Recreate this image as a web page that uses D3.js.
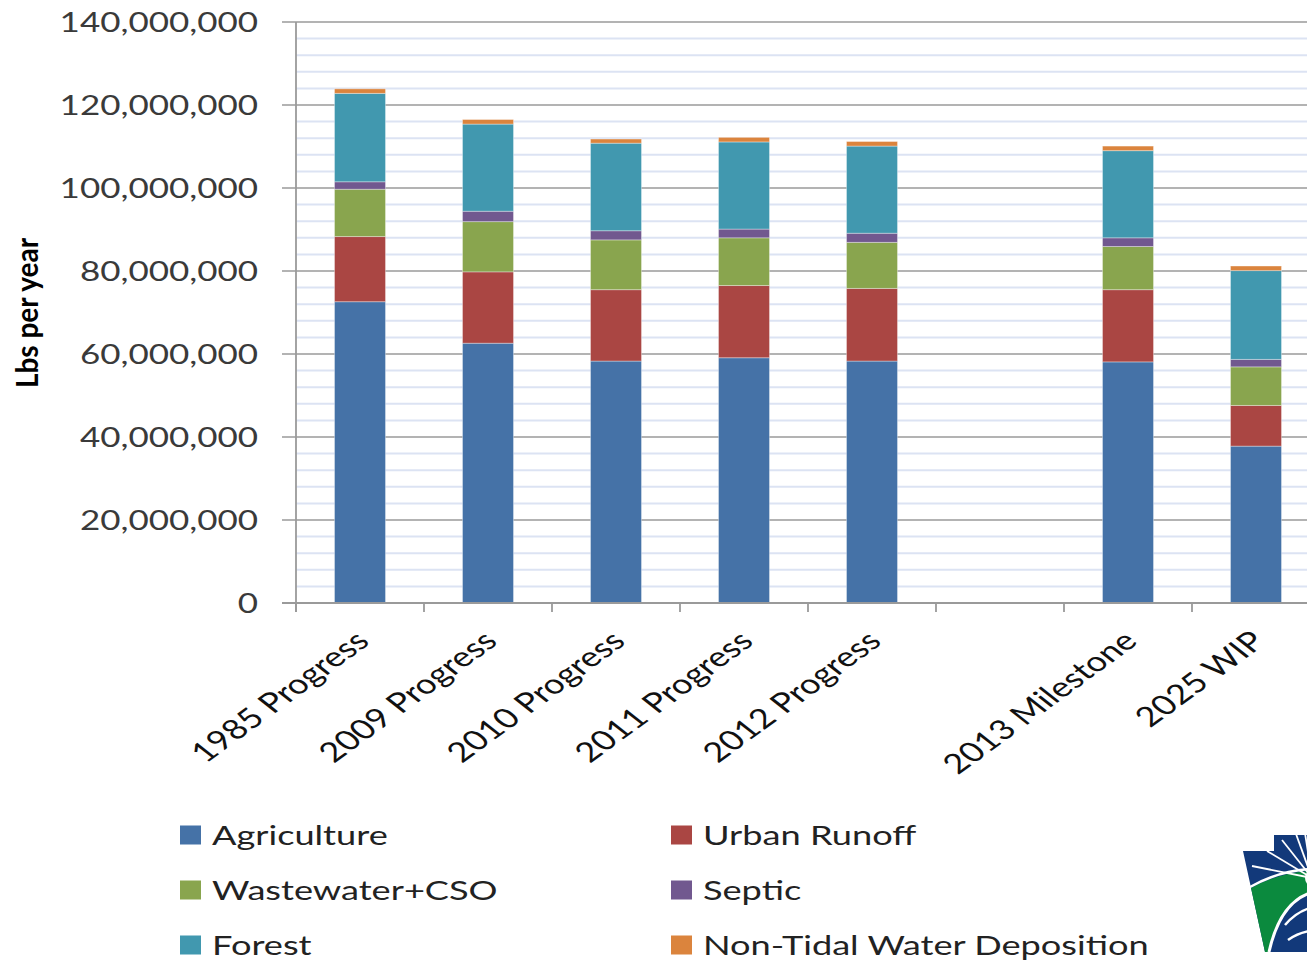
<!DOCTYPE html>
<html>
<head>
<meta charset="utf-8">
<script src="https://cdn.jsdelivr.net/npm/d3@7/dist/d3.min.js"></script>
<style>
  html, body { margin: 0; padding: 0; background: #fff; }
  svg { display: block; }
  text { font-family: Lato, "Open Sans", sans-serif; }
</style>
</head>
<body>
<svg id="chart" width="1307" height="960"></svg>
<script>
// ---- data ----
const categories = ["1985 Progress", "2009 Progress", "2010 Progress", "2011 Progress", "2012 Progress", "", "2013 Milestone", "2025 WIP"];
const seriesNames = ["Agriculture", "Urban Runoff", "Wastewater+CSO", "Septic", "Forest", "Non-Tidal Water Deposition"];
const agriculture = [72600000, 62600000, 58300000, 59100000, 58300000, null, 58100000, 37800000];
const urbanRunoff = [15700000, 17200000, 17200000, 17400000, 17500000, null, 17400000, 9800000];
const wastewater  = [11400000, 12100000, 12000000, 11500000, 11100000, null, 10400000, 9300000];
const septic      = [1800000, 2500000, 2200000, 2100000, 2200000, null, 2100000, 1800000];
const forest      = [21300000, 21000000, 21100000, 21000000, 21000000, null, 21000000, 21400000];
const nonTidal    = [1100000, 1100000, 1000000, 1100000, 1100000, null, 1100000, 1100000];
const yTicks = [0, 20000000, 40000000, 60000000, 80000000, 100000000, 120000000, 140000000];
const colors = ["#4572A7", "#AA4643", "#89A54E", "#71588F", "#4198AF", "#DB843D"];

const seriesValues = [agriculture, urbanRunoff, wastewater, septic, forest, nonTidal];
const rows = categories.map((c, i) => {
  const r = { cat: c, blank: agriculture[i] == null };
  seriesNames.forEach((s, k) => r[s] = seriesValues[k][i] || 0);
  return r;
});

const svg = d3.select("#chart");
const SX = 1.32; // horizontal stretch of the reference image

const x = d3.scaleBand().domain(categories).range([296, 1320]).paddingInner(0).paddingOuter(0);
const y = d3.scaleLinear().domain([0, 140000000]).range([603, 22]);
const barW = 51;

// minor gridlines
const minor = d3.range(0, 140000001, 4000000).filter(v => v % 20000000 !== 0);
svg.append("g").selectAll("line").data(minor).join("line")
  .attr("x1", 296).attr("x2", 1320)
  .attr("y1", d => y(d)).attr("y2", d => y(d))
  .attr("stroke", "#dce3f3").attr("stroke-width", 2);

// major gridlines (with left tick extension)
svg.append("g").selectAll("line").data(yTicks.filter(v => v > 0)).join("line")
  .attr("x1", 282).attr("x2", 1320)
  .attr("y1", d => y(d)).attr("y2", d => y(d))
  .attr("stroke", "#9a9a9a").attr("stroke-width", 1.6);

// stacked bars
const stack = d3.stack().keys(seriesNames);
const stacked = stack(rows);
svg.append("g").selectAll("g").data(stacked).join("g")
  .attr("fill", (d, i) => colors[i])
  .selectAll("rect").data(d => d.filter(p => !p.data.blank)).join("rect")
  .attr("x", d => x(d.data.cat) + (x.bandwidth() - barW) / 2)
  .attr("width", barW)
  .attr("y", d => y(d[1]))
  .attr("height", d => y(d[0]) - y(d[1]))
  .attr("stroke", "rgba(255,255,255,0.35)").attr("stroke-width", 1);

// axes lines
svg.append("line").attr("x1", 296).attr("x2", 296).attr("y1", y(140000000)).attr("y2", 612)
  .attr("stroke", "#9a9a9a").attr("stroke-width", 1.8);
svg.append("line").attr("x1", 282).attr("x2", 1320).attr("y1", y(0)).attr("y2", y(0))
  .attr("stroke", "#9a9a9a").attr("stroke-width", 1.8);
// category boundary ticks
const bounds = categories.map(c => x(c)).concat([x(categories[categories.length - 1]) + x.step()]);
svg.append("g").selectAll("line").data(bounds).join("line")
  .attr("x1", d => d).attr("x2", d => d).attr("y1", y(0)).attr("y2", 612)
  .attr("stroke", "#9a9a9a").attr("stroke-width", 1.8);

// y tick labels
svg.append("g").selectAll("g").data(yTicks).join("g")
  .attr("transform", d => `translate(258,${y(d)}) scale(${SX},1)`)
  .append("text")
  .attr("text-anchor", "end").attr("dy", "0.36em")
  .attr("font-size", 26.5).attr("fill", "#3a3a3a")
  .text(d3.format(","));

// x tick labels
svg.append("g").selectAll("g").data(categories.filter(c => c !== "")).join("g")
  .attr("transform", d => `translate(${x(d) + x.bandwidth() / 2 + 11},643) scale(${SX},1) rotate(-44)`)
  .append("text")
  .attr("text-anchor", "end")
  .attr("font-size", 27.5).attr("fill", "#111")
  .text(d => d);

// y axis title
svg.append("g").attr("transform", "translate(38,313) scale(1.1,1) rotate(-90)")
  .append("text").attr("text-anchor", "middle")
  .attr("font-size", 28).attr("font-weight", "bold").attr("fill", "#000")
  .text("Lbs per year");

// legend
const legendPos = [[180, 835], [671, 835], [180, 890], [671, 890], [180, 945], [671, 945]];
const lg = svg.append("g").selectAll("g").data(seriesNames).join("g")
  .attr("transform", (d, i) => `translate(${legendPos[i][0]},${legendPos[i][1]})`);
lg.append("rect").attr("x", 0).attr("y", -9.5).attr("width", 21).attr("height", 19)
  .attr("fill", (d, i) => colors[i]);
lg.append("g").attr("transform", `translate(32,0) scale(1.34,1)`)
  .append("text").attr("dy", "0.36em").attr("font-size", 27).attr("fill", "#222")
  .text(d => d);

// logo (partial keystone, cropped at right edge)
const logo = svg.append("g");
logo.append("path")
  .attr("d", "M1243,851 L1274,851 L1274,835 L1310,835 L1310,952 L1265,952 Z")
  .attr("fill", "#12397a");
logo.append("path")
  .attr("d", "M1251,888 Q1278,873 1310,871 L1310,893 Q1279,902 1268,952 L1265,952 Z")
  .attr("fill", "#0b8a3e");
logo.append("path")
  .attr("d", "M1250,887 Q1278,871 1310,869")
  .attr("fill", "none").attr("stroke", "#fff").attr("stroke-width", 2.5);
logo.append("path")
  .attr("d", "M1269,952 Q1280,903 1310,893")
  .attr("fill", "none").attr("stroke", "#fff").attr("stroke-width", 3);
logo.append("path")
  .attr("d", "M1285,925 Q1296,912 1310,908 M1288,940 Q1298,933 1310,931")
  .attr("fill", "none").attr("stroke", "#fff").attr("stroke-width", 2.5);
const rays = [[1252, 866], [1267, 851], [1282, 840], [1296, 834], [1305, 833]];
logo.selectAll("line.ray").data(rays).join("line").attr("class", "ray")
  .attr("x1", 1312).attr("y1", 878).attr("x2", d => d[0]).attr("y2", d => d[1])
  .attr("stroke", "#fff").attr("stroke-width", 1.8);
logo.append("circle").attr("cx", 1314).attr("cy", 878).attr("r", 9).attr("fill", "#fff");
</script>
</body>
</html>
